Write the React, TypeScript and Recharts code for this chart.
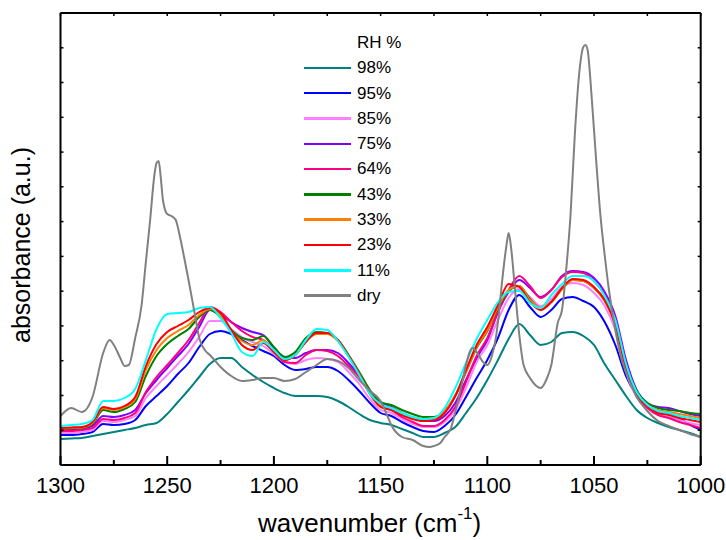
import React from 'react';
import { LineChart, Line, XAxis, YAxis, Legend } from 'recharts';

const FONT = '"Liberation Sans", Arial, Helvetica, sans-serif';

// wavenumber grid for the hydrated spectra (cm-1)
const wavenumbers = [1300, 1295, 1290, 1285, 1280, 1275, 1270, 1265, 1260, 1255, 1250, 1245, 1240, 1235, 1230, 1225, 1220, 1215, 1210, 1205, 1200, 1195, 1190, 1185, 1180, 1175, 1170, 1165, 1160, 1155, 1150, 1145, 1140, 1135, 1130, 1125, 1120, 1115, 1110, 1105, 1100, 1095, 1090, 1085, 1080, 1075, 1070, 1065, 1060, 1055, 1050, 1045, 1040, 1035, 1030, 1025, 1020, 1015, 1010, 1005, 1000];

// absorbance (a.u.) per relative humidity
const rh98 = [26, 26.5, 27, 29, 31, 33, 35, 37, 40, 42, 51, 63, 75, 88, 101, 107, 107, 98, 90, 83, 77, 72, 69, 69, 69, 68, 64, 58, 51, 45, 42, 40, 36, 32, 28, 28, 32, 38, 52, 67, 85, 105, 126, 141, 130, 120, 123, 132, 133, 129, 120, 101, 85, 69, 55, 47, 42, 38, 35, 32, 28];
const rh95 = [30, 30, 31, 33, 41, 40, 41, 45, 59, 69, 79, 91, 102, 118, 131, 134, 131, 125, 119, 114, 109, 100, 95, 96, 98, 98, 94, 85, 74, 62, 52, 49, 43, 38, 34, 33, 39, 50, 68, 87, 105, 127, 155, 170, 158, 148, 155, 166, 168, 164, 158, 143, 120, 89, 70, 59, 54, 52, 47, 40, 35];
const rh85 = [32, 32, 33, 35, 44, 43, 45, 49, 67, 79, 90, 101, 113, 128, 144, 144, 136, 128, 123, 119, 111, 103, 101, 105, 107, 106, 103, 93, 81, 66, 55, 52, 46, 41, 38, 38, 43, 55, 77, 103, 120, 145, 167, 176, 168, 159, 166, 178, 182, 180, 172, 159, 135, 93, 68, 57, 51, 48, 45, 42, 40];
const rh75 = [35, 35, 36, 39, 49, 48, 50, 55, 72, 85, 97, 109, 121, 138, 155, 151, 143, 137, 133, 130, 117, 108, 107, 112, 115, 115, 112, 102, 89, 73, 63, 58, 52, 47, 44, 44, 49, 62, 85, 107, 125, 153, 173, 185, 177, 168, 175, 189, 194, 193, 187, 173, 149, 105, 75, 62, 58, 57, 54, 51, 49];
const rh64 = [34, 34, 35, 37, 46, 45, 47, 52, 73, 88, 100, 112, 125, 142, 158, 153, 143, 134, 128, 125, 113, 103, 102, 110, 115, 114, 109, 99, 88, 72, 60, 55, 48, 43, 39, 39, 45, 58, 83, 109, 127, 153, 175, 189, 179, 167, 175, 188, 193, 192, 184, 170, 145, 100, 70, 57, 50, 47, 43, 40, 37];
const rh43 = [36, 36.5, 37, 41, 55, 53, 56, 63, 89, 109, 121, 129, 136, 148, 155, 148, 135, 127, 125, 129, 118, 108, 113, 127, 133, 132, 125, 110, 93, 75, 63, 60, 55, 51, 48, 48, 54, 69, 93, 117, 134, 157, 174, 179, 166, 157, 163, 176, 185, 184, 177, 165, 143, 100, 74, 62, 57, 55, 54, 52, 51];
const rh33 = [36.5, 37, 37.5, 42, 57, 55, 58, 66, 95, 115, 127, 134, 140, 150, 156, 150, 133, 124, 120, 125, 113, 105, 110, 124, 131, 131, 124, 109, 91, 72, 60, 57, 52, 48, 46, 47, 54, 70, 93, 118, 135, 158, 175, 179, 165, 157, 163, 176, 185, 184, 177, 164, 141, 98, 72, 60, 55, 53, 51, 49, 47];
const rh23 = [37, 37.5, 38, 43, 58, 56, 59, 68, 99, 121, 133, 139, 145, 153, 157, 152, 135, 120, 115, 122, 113, 105, 110, 123, 132, 132, 125, 109, 91, 71, 58, 55, 50, 46, 44, 45, 52, 69, 95, 120, 138, 160, 181, 178, 163, 155, 163, 177, 186, 185, 178, 165, 140, 97, 71, 59, 52, 50, 47, 45, 43];
const rh11 = [39, 40, 41, 45, 64, 64, 67, 76, 105, 136, 151, 152, 153, 157, 158, 147, 132, 113, 109, 123, 115, 106, 110, 125, 136, 135, 124, 108, 90, 71, 61, 57, 52, 48, 46, 47, 57, 77, 102, 126, 145, 163, 173, 174, 162, 157, 170, 181, 189, 189, 184, 169, 145, 101, 73, 60, 54, 52, 49, 47, 45];

// dry spectrum, finer grid around its sharp bands
const dryWavenumbers = [1300, 1295, 1290, 1285, 1280, 1277, 1275, 1272, 1270, 1268, 1265, 1262, 1260, 1258, 1256, 1255, 1254, 1253, 1252, 1250, 1248, 1246, 1244, 1242, 1240, 1237, 1235, 1232, 1230, 1225, 1220, 1215, 1210, 1205, 1200, 1195, 1190, 1185, 1180, 1175, 1170, 1165, 1160, 1155, 1150, 1147, 1145, 1140, 1135, 1130, 1127, 1125, 1122, 1120, 1117, 1115, 1112, 1110, 1107, 1105, 1102, 1100, 1098, 1096, 1095, 1093, 1091, 1090, 1089, 1087, 1085, 1083, 1080, 1077, 1075, 1072, 1070, 1067, 1065, 1063, 1061, 1059, 1057, 1055, 1054, 1053, 1051, 1049, 1047, 1045, 1043, 1040, 1037, 1035, 1030, 1025, 1020, 1015, 1010, 1005, 1000];
const dryValues = [49, 57, 53, 68, 112, 125, 120, 107, 99, 100, 127, 160, 203, 245, 290, 302, 304, 287, 265, 251, 249, 245, 228, 207, 185, 150, 127, 114, 110, 98, 89, 84, 85, 87, 87, 84, 86, 93, 100, 106, 104, 97, 85, 74, 64, 50, 40, 28, 25, 19, 18, 19, 22, 28, 37, 53, 80, 100, 117, 113, 103, 100, 108, 127, 143, 185, 220, 232, 220, 175, 130, 100, 87, 79, 77, 87, 100, 142, 155, 196, 250, 330, 390, 418, 420, 415, 365, 305, 250, 210, 175, 135, 105, 93, 68, 54, 44, 39, 35, 31, 28];

const xTicks = [1300, 1275, 1250, 1225, 1200, 1175, 1150, 1125, 1100, 1075, 1050, 1025, 1000];
const yTicks = [0, 34.8, 69.5, 104.3, 139.1, 173.8, 208.6, 243.4, 278.2, 312.9, 347.7, 382.5, 417.2, 452];

const series = [
  { key: 'rh98', name: '98%', color: '#008080', values: rh98 },
  { key: 'rh95', name: '95%', color: '#0000FF', values: rh95 },
  { key: 'rh85', name: '85%', color: '#FF80FF', values: rh85 },
  { key: 'rh75', name: '75%', color: '#8000FF', values: rh75 },
  { key: 'rh64', name: '64%', color: '#FF0080', values: rh64 },
  { key: 'rh43', name: '43%', color: '#008000', values: rh43 },
  { key: 'rh33', name: '33%', color: '#FF8000', values: rh33 },
  { key: 'rh23', name: '23%', color: '#FF0000', values: rh23 },
  { key: 'rh11', name: '11%', color: '#00FFFF', values: rh11 },
];
const dryInfo = { key: 'dry', name: 'dry', color: '#808080' };

const mainData = wavenumbers.map((w, i) => {
  const row: any = { w };
  series.forEach((s) => { row[s.key] = s.values[i]; });
  return row;
});
const dryData = dryWavenumbers.map((w, i) => ({ w, dry: dryValues[i] }));

const BottomTick = (props: any) => {
  const { x, y, payload } = props;
  const major = payload.value % 50 === 0;
  return (
    <g>
      <line x1={x} x2={x} y1={y} y2={y - (major ? 9 : 5)} stroke="#000" strokeWidth={2} />
      {major ? (
        <text x={x} y={y + 28.3} textAnchor="middle" fontFamily={FONT} fontSize={22} fill="#000">
          {payload.value}
        </text>
      ) : null}
    </g>
  );
};
const TopTick = (props: any) => {
  const { x, y } = props;
  return <line x1={x} x2={x} y1={y} y2={y + 3} stroke="#000" strokeWidth={1.5} />;
};
const LeftTick = (props: any) => {
  const { x, y } = props;
  return <line x1={x} x2={x + 3} y1={y} y2={y} stroke="#000" strokeWidth={1.5} />;
};
const RightTick = (props: any) => {
  const { x, y } = props;
  return <line x1={x} x2={x - 3} y1={y} y2={y} stroke="#000" strokeWidth={1.5} />;
};

const XTitle = (props: any) => {
  const { viewBox } = props;
  const cx = viewBox.x + viewBox.width / 2 - 11;
  const y = viewBox.y + 66.5;
  return (
    <text x={cx} y={y} textAnchor="middle" fontFamily={FONT} fontSize={26} fill="#000">
      <tspan>wavenumber (cm</tspan>
      <tspan dy={-13} fontSize={17}>-1</tspan>
      <tspan dy={13}>)</tspan>
    </text>
  );
};
const YTitle = (props: any) => {
  const { viewBox } = props;
  const cx = viewBox.x + viewBox.width - 30.5;
  const cy = viewBox.y + viewBox.height / 2 + 6;
  return (
    <text x={cx} y={cy} transform={`rotate(-90 ${cx} ${cy})`} textAnchor="middle" fontFamily={FONT} fontSize={25} fill="#000">
      absorbance (a.u.)
    </text>
  );
};

const renderLegend = () => {
  const rows = [...series, dryInfo];
  return (
    <div style={{ fontFamily: FONT, fontSize: 17, color: '#000', lineHeight: '25.3px' }}>
      <div style={{ paddingLeft: 53, height: 25.3, whiteSpace: 'nowrap' }}>RH %</div>
      {rows.map((s) => (
        <div key={s.key} style={{ display: 'flex', alignItems: 'center', height: 25.3 }}>
          <div style={{ width: 47, height: 2.5, background: s.color }} />
          <div style={{ marginLeft: 6, whiteSpace: 'nowrap' }}>{s.name}</div>
        </div>
      ))}
    </div>
  );
};

export default function App() {
  return (
    <div style={{ position: 'absolute', left: 0, top: 0, width: 726, height: 540, background: '#fff' }}>
      <LineChart
        width={726}
        height={540}
        data={mainData}
        margin={{ top: 12, right: 24.3, bottom: 74, left: 59.5 }}
      >
        <XAxis
          dataKey="w"
          type="number"
          domain={[1000, 1300]}
          reversed
          allowDataOverflow
          ticks={xTicks}
          interval={0}
          height={1}
          tickSize={0}
          tickMargin={0}
          tickLine={false}
          tick={<BottomTick />}
          axisLine={{ stroke: '#000', strokeWidth: 2 }}
          label={<XTitle />}
        />
        <XAxis
          xAxisId="top"
          orientation="top"
          dataKey="w"
          type="number"
          domain={[1000, 1300]}
          reversed
          allowDataOverflow
          ticks={xTicks}
          interval={0}
          height={1}
          tickSize={0}
          tickMargin={0}
          tickLine={false}
          tick={<TopTick />}
          axisLine={{ stroke: '#000', strokeWidth: 2 }}
        />
        <YAxis
          type="number"
          domain={[0, 452]}
          allowDataOverflow
          ticks={yTicks}
          interval={0}
          width={1}
          tickSize={0}
          tickMargin={0}
          tickLine={false}
          tick={<LeftTick />}
          axisLine={{ stroke: '#000', strokeWidth: 2 }}
          label={<YTitle />}
        />
        <YAxis
          yAxisId="right"
          orientation="right"
          type="number"
          domain={[0, 452]}
          allowDataOverflow
          ticks={yTicks}
          interval={0}
          width={1}
          tickSize={0}
          tickMargin={0}
          tickLine={false}
          tick={<RightTick />}
          axisLine={{ stroke: '#000', strokeWidth: 2 }}
        />
        {series.map((s) => (
          <Line
            key={s.key}
            type="monotone"
            dataKey={s.key}
            name={s.name}
            stroke={s.color}
            strokeWidth={2}
            dot={false}
            activeDot={false}
            isAnimationActive={false}
          />
        ))}
        <Line
          data={dryData}
          type="monotone"
          dataKey="dry"
          name="dry"
          stroke={dryInfo.color}
          strokeWidth={2}
          dot={false}
          activeDot={false}
          isAnimationActive={false}
        />
        <Legend
          layout="vertical"
          align="center"
          verticalAlign="middle"
          wrapperStyle={{ left: 304, top: 30, width: 140 }}
          content={renderLegend}
        />
      </LineChart>
    </div>
  );
}
